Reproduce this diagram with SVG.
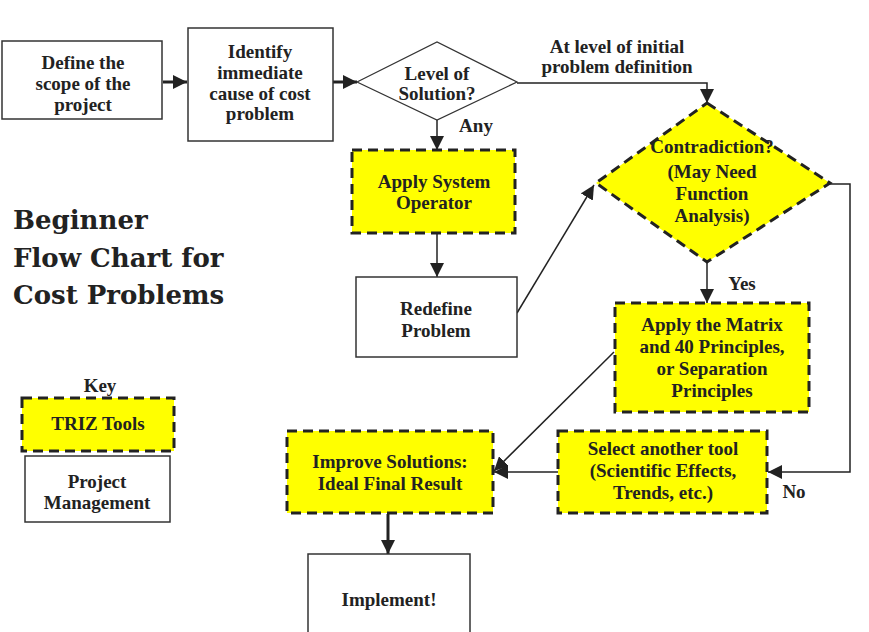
<svg xmlns="http://www.w3.org/2000/svg" width="869" height="632" viewBox="0 0 869 632">
<defs>
<style>
.pm{fill:#fff;stroke:#333;stroke-width:1.5}
.tz{fill:#ffff00;stroke:#222;stroke-width:3;stroke-dasharray:10 6}
.dm{fill:#fff;stroke:#333;stroke-width:1.2}
.t{font-family:"Liberation Serif","Times New Roman",serif;font-weight:bold;font-size:19px;fill:#222;text-anchor:middle}
.title{font-family:"DejaVu Serif","Liberation Serif",serif;font-weight:bold;font-size:26px;fill:#222}
.c{fill:none;stroke:#222;stroke-width:1.5}
.ct{fill:none;stroke:#222;stroke-width:3}
</style>
<marker id="ah" markerUnits="userSpaceOnUse" markerWidth="14" markerHeight="14" viewBox="0 0 14 14" refX="14" refY="7" orient="auto">
<path d="M0,0 L14,7 L0,14 Z" fill="#222"/>
</marker>
</defs>

<g id="title">
<text class="title" x="13" y="229">Beginner</text>
<text class="title" x="13" y="267">Flow Chart for</text>
<text class="title" x="13" y="304">Cost Problems</text>
</g>

<g id="connectors">
<line class="ct" x1="163" y1="82" x2="187" y2="82" marker-end="url(#ah)"/>
<line class="ct" x1="333" y1="82" x2="357" y2="82" marker-end="url(#ah)"/>
<polyline class="c" points="517,83 707,83 707,103" marker-end="url(#ah)"/>
<line class="c" x1="437" y1="120" x2="437" y2="150" marker-end="url(#ah)"/>
<line class="c" x1="437" y1="233" x2="437" y2="277" marker-end="url(#ah)"/>
<line class="c" x1="517" y1="313" x2="594" y2="185" marker-end="url(#ah)"/>
<line class="c" x1="707" y1="262" x2="707" y2="303" marker-end="url(#ah)"/>
<polyline class="c" points="830,184 850,184 850,472 768,472" marker-end="url(#ah)"/>
<line class="c" x1="614" y1="352" x2="494" y2="471" marker-end="url(#ah)"/>
<line class="c" x1="558" y1="472" x2="494" y2="472" marker-end="url(#ah)"/>
<line class="ct" x1="388" y1="514" x2="388" y2="554" marker-end="url(#ah)"/>
<text class="t" x="617" y="53">At level of initial</text>
<text class="t" x="617" y="73">problem definition</text>
<text class="t" x="476" y="132">Any</text>
<text class="t" x="742" y="290">Yes</text>
<text class="t" x="794" y="498">No</text>
</g>

<g id="define">
<rect class="pm" x="2" y="41" width="160" height="78"/>
<text class="t" x="83" y="69">Define the</text>
<text class="t" x="83" y="90">scope of the</text>
<text class="t" x="83" y="111">project</text>
</g>

<g id="identify">
<rect class="pm" x="188" y="28" width="145" height="113"/>
<text class="t" x="260" y="58">Identify</text>
<text class="t" x="260" y="79">immediate</text>
<text class="t" x="260" y="100">cause of cost</text>
<text class="t" x="260" y="120">problem</text>
</g>

<g id="level">
<polygon class="dm" points="357,82 437,42 517,82 437,120"/>
<text class="t" x="437" y="80">Level of</text>
<text class="t" x="437" y="100">Solution?</text>
</g>

<g id="system-operator">
<rect class="tz" x="352" y="150" width="163" height="83"/>
<text class="t" x="434" y="188">Apply System</text>
<text class="t" x="434" y="209">Operator</text>
</g>

<g id="redefine">
<rect class="pm" x="356" y="277" width="161" height="80"/>
<text class="t" x="436" y="315">Redefine</text>
<text class="t" x="436" y="337">Problem</text>
</g>

<g id="contradiction">
<polygon class="tz" points="707,103 830,183 707,262 596,183"/>
<text class="t" x="712" y="153">Contradiction?</text>
<text class="t" x="712" y="178">(May Need</text>
<text class="t" x="712" y="200">Function</text>
<text class="t" x="712" y="222">Analysis)</text>
</g>

<g id="matrix">
<rect class="tz" x="615" y="303" width="194" height="109"/>
<text class="t" x="712" y="331">Apply the Matrix</text>
<text class="t" x="712" y="353">and 40 Principles,</text>
<text class="t" x="712" y="375">or Separation</text>
<text class="t" x="712" y="397">Principles</text>
</g>

<g id="select">
<rect class="tz" x="558" y="431" width="209" height="82"/>
<text class="t" x="663" y="455">Select another tool</text>
<text class="t" x="663" y="477">(Scientific Effects,</text>
<text class="t" x="663" y="499">Trends, etc.)</text>
</g>

<g id="improve">
<rect class="tz" x="287" y="431" width="206" height="82"/>
<text class="t" x="390" y="468">Improve Solutions:</text>
<text class="t" x="390" y="490">Ideal Final Result</text>
</g>

<g id="implement">
<rect class="pm" x="308" y="554" width="162" height="90"/>
<text class="t" x="389" y="606">Implement!</text>
</g>

<g id="key">
<text class="t" x="100" y="392">Key</text>
<rect class="tz" x="22" y="398" width="152" height="53"/>
<text class="t" x="98" y="430">TRIZ Tools</text>
<rect class="pm" x="25" y="456" width="145" height="66"/>
<text class="t" x="97" y="488">Project</text>
<text class="t" x="97" y="509">Management</text>
</g>
</svg>
